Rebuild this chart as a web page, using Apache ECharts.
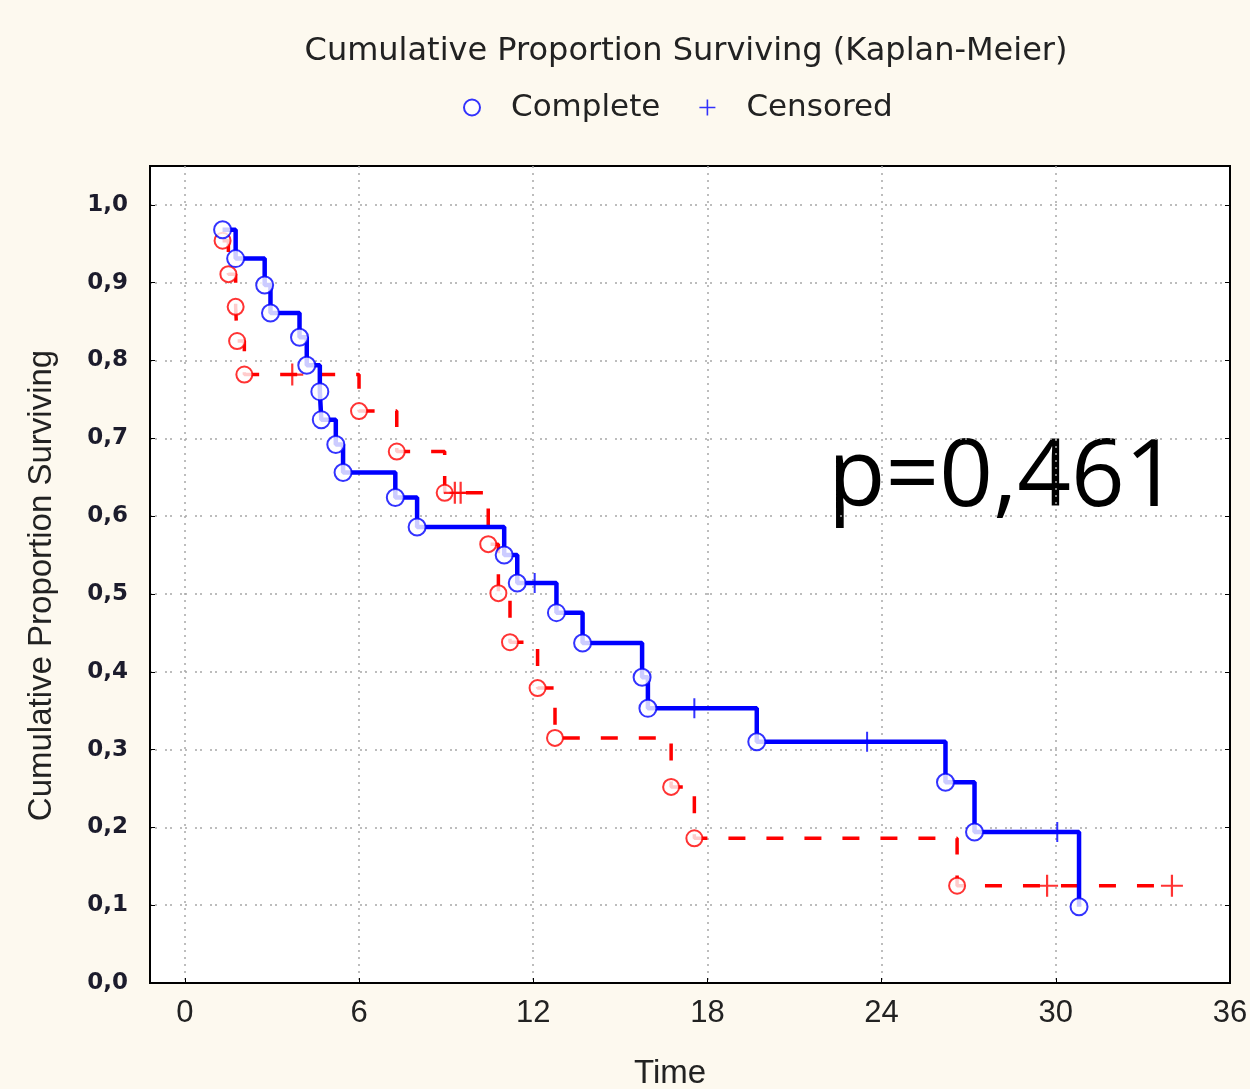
<!DOCTYPE html>
<html>
<head>
<meta charset="utf-8">
<script src="https://cdn.jsdelivr.net/npm/echarts@6/dist/echarts.min.js"></script>
<style>
html, body { margin: 0; padding: 0; background: #fdf9ef; }
#chart { width: 1250px; height: 1089px; }
</style>
</head>
<body>
<div id="chart"></div>
<script>
// group 1 (blue, solid): complete events and censored cases
var blueEventTime = [1.3, 1.75, 2.75, 2.95, 3.95, 4.2, 4.65, 4.7, 5.2, 5.45, 7.25, 8.0, 11.0, 11.45, 12.8, 13.7, 15.75, 15.95, 19.7, 26.2, 27.2, 30.8];
var blueEventSurv = [0.968, 0.931, 0.897, 0.861, 0.830, 0.794, 0.760, 0.724, 0.692, 0.656, 0.624, 0.586, 0.550, 0.514, 0.476, 0.437, 0.393, 0.353, 0.310, 0.258, 0.194, 0.098];
var blueCensTime = [12.05, 17.55, 23.5, 30.05];
var blueCensSurv = [0.514, 0.353, 0.310, 0.194];

// group 2 (red, dashed)
var redEventTime = [1.3, 1.5, 1.75, 1.8, 2.05, 6.0, 7.3, 8.95, 10.45, 10.8, 11.2, 12.15, 12.75, 16.75, 17.55, 26.6];
var redEventSurv = [0.954, 0.911, 0.869, 0.825, 0.782, 0.735, 0.683, 0.630, 0.564, 0.501, 0.438, 0.379, 0.315, 0.252, 0.186, 0.125];
var redCensTime = [3.7, 9.3, 9.5, 29.7, 34.0];
var redCensSurv = [0.782, 0.630, 0.630, 0.125, 0.125];

var xTicks = [0, 6, 12, 18, 24, 30, 36];
var yTicks = [0, 0.1, 0.2, 0.3, 0.4, 0.5, 0.6, 0.7, 0.8, 0.9, 1.0];

var plusPath = 'path://M9,0H11V9H20V11H11V20H9V11H0V9H9Z';

function pairs(ts, ss) {
  var out = [];
  for (var i = 0; i < ts.length; i++) out.push([ts[i], ss[i]]);
  return out;
}

// events + censored merged in time order, drawn as a step line
function stepData(evT, evS, cT, cS) {
  var all = pairs(evT, evS).concat(pairs(cT, cS));
  all.sort(function(a, b) { return a[0] - b[0] || b[1] - a[1]; });
  return all;
}

var myChart = echarts.init(document.getElementById('chart'));

var axisFont = 'Liberation Sans';
var option = {
  backgroundColor: '#fdf9ef',
  animation: false,
  title: {
    text: 'Cumulative Proportion Surviving (Kaplan-Meier)',
    left: 681,
    top: 31,
    textAlign: 'center',
    textStyle: { fontFamily: 'DejaVu Sans', fontSize: 32, fontWeight: 'normal', color: '#222' }
  },
  legend: {
    data: ['Complete', 'Censored'],
    left: 458,
    top: 87,
    itemWidth: 68,
    itemHeight: 16,
    itemGap: 39,
    textStyle: { fontFamily: 'DejaVu Sans', fontSize: 31, color: '#222' }
  },
  grid: {
    left: 150, top: 166, width: 1080, height: 817,
    outerBoundsMode: 'none',
    show: true, backgroundColor: '#fff', borderColor: '#000', borderWidth: 2
  },
  xAxis: {
    type: 'value',
    min: -1.2,
    max: 36,
    name: 'Time',
    nameLocation: 'middle',
    nameGap: 74,
    nameTextStyle: { fontFamily: axisFont, fontSize: 33, color: '#222', padding: [0, 40, 0, 0] },
    axisLine: { show: true, lineStyle: { color: '#000', width: 2 } },
    axisTick: { inside: true, length: 5, customValues: xTicks, lineStyle: { color: '#000' } },
    axisLabel: { customValues: xTicks, margin: 15, fontFamily: axisFont, fontSize: 31, color: '#222' },
    splitLine: { show: true, lineStyle: { color: '#a8a8a8', width: 1.5, type: [2, 5] } }
  },
  yAxis: [{
    type: 'value',
    min: 0,
    max: 1.05,
    name: 'Cumulative Proportion Surviving',
    nameLocation: 'middle',
    nameRotate: 90,
    nameGap: 92,
    nameTextStyle: { fontFamily: axisFont, fontSize: 33, color: '#222', padding: [0, 22, 0, 0] },
    axisLine: { show: true, onZero: false, lineStyle: { color: '#000', width: 2 } },
    axisTick: { inside: true, length: 5, customValues: yTicks, lineStyle: { color: '#000' } },
    axisLabel: {
      customValues: yTicks,
      margin: 22,
      fontFamily: 'DejaVu Sans',
      fontWeight: 'bold',
      fontSize: 23,
      color: '#1c1c2c',
      formatter: function(v) { return v.toFixed(1).replace('.', ','); }
    },
    splitLine: { show: true, lineStyle: { color: '#a8a8a8', width: 1.5, type: [2, 3, 2, 8] } }
  }, {
    type: 'value',
    position: 'right',
    min: 0,
    max: 1.05,
    axisLine: { show: true, onZero: false, lineStyle: { color: '#000', width: 2 } },
    axisTick: { inside: true, length: 5, customValues: yTicks, lineStyle: { color: '#000' } },
    axisLabel: { show: false },
    splitLine: { show: false }
  }],
  graphic: [{
    type: 'text',
    left: 828,
    top: 432,
    style: { text: 'p=0,461', font: '94px "Open Sans"', fill: '#000' }
  }],
  series: [{
    name: 'red',
    type: 'line',
    step: 'end',
    data: stepData(redEventTime, redEventSurv, redCensTime, redCensSurv),
    symbol: 'none',
    lineStyle: { color: '#ff0000', width: 3.5, type: [17, 21] },
    z: 2
  }, {
    name: 'blue',
    type: 'line',
    step: 'end',
    data: stepData(blueEventTime, blueEventSurv, blueCensTime, blueCensSurv),
    symbol: 'none',
    lineStyle: { color: '#0000ff', width: 4.5 },
    z: 3
  }, {
    name: 'Complete',
    type: 'scatter',
    data: pairs(blueEventTime, blueEventSurv),
    symbol: 'circle',
    symbolSize: 17,
    itemStyle: { color: '#fff', borderColor: '#0000ff', borderWidth: 2 },
    z: 6
  }, {
    name: 'Censored',
    type: 'scatter',
    data: pairs(blueCensTime, blueCensSurv),
    symbol: plusPath,
    symbolSize: 20,
    itemStyle: { color: '#0000ff' },
    z: 6
  }, {
    name: 'Complete',
    type: 'scatter',
    data: pairs(redEventTime, redEventSurv),
    symbol: 'circle',
    symbolSize: 16,
    itemStyle: { color: '#fff', borderColor: '#ff0000', borderWidth: 2 },
    z: 5
  }, {
    name: 'Censored',
    type: 'scatter',
    data: pairs(redCensTime, redCensSurv),
    symbol: plusPath,
    symbolSize: 22,
    itemStyle: { color: '#ff0000' },
    z: 5
  }]
};

myChart.setOption(option);
</script>
</body>
</html>
